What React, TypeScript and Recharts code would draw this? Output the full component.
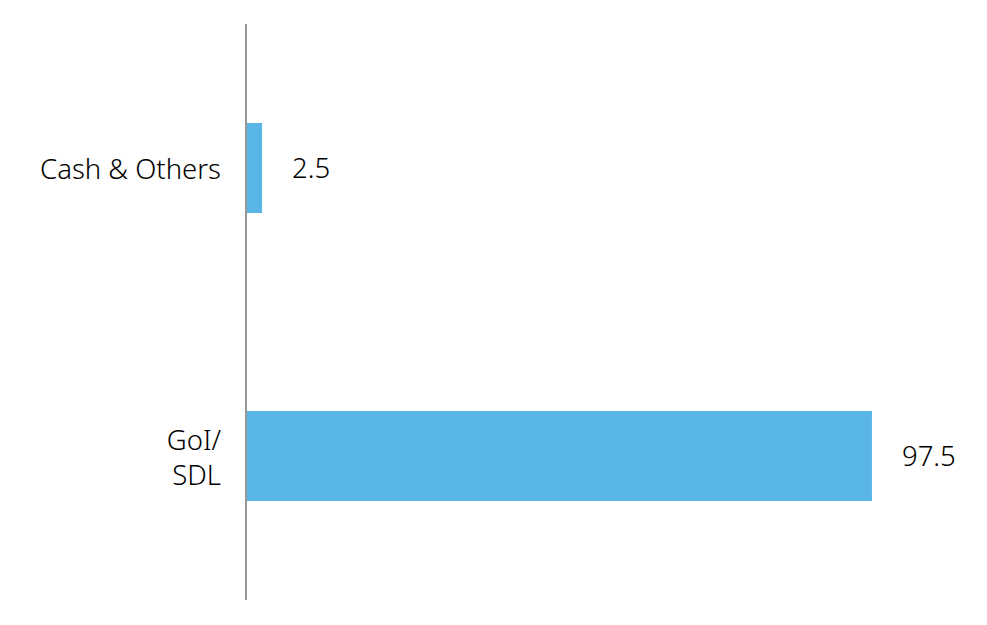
import { Bar, BarChart, LabelList, XAxis, YAxis } from 'recharts'

const categories = ['Cash & Others', 'GoI/\nSDL']
const values = [2.5, 97.5]

const data = categories.map((name, i) => ({ name, value: values[i] }))

const FONT = '"Noto Sans", sans-serif'

const Tick = ({ x, y, payload }: any) => {
  const lines = String(payload.value).split('\n')
  const lineHeight = 35
  const startY = y - ((lines.length - 1) * lineHeight) / 2
  return (
    <text
      x={x}
      y={startY}
      textAnchor="end"
      dominantBaseline="central"
      fontFamily={FONT}
      fontSize={27.5}
      fontWeight={300}
      fill="#000"
    >
      {lines.map((line, i) => (
        <tspan key={i} x={x} y={startY + i * lineHeight} dominantBaseline="central">
          {line}
        </tspan>
      ))}
    </text>
  )
}

export default function App() {
  return (
    <BarChart
      width={979}
      height={617}
      data={data}
      layout="vertical"
      margin={{ top: 16, right: 99, bottom: 25, left: 0 }}
    >
      <XAxis type="number" domain={[0, 100]} hide />
      <YAxis
        type="category"
        dataKey="name"
        width={238}
        tickLine={false}
        axisLine={{ stroke: '#999', strokeWidth: 2 }}
        tick={<Tick />}
        tickMargin={19}
      />
      <Bar dataKey="value" fill="#58B5E6" barSize={90} isAnimationActive={false}>
        <LabelList
          dataKey="value"
          position="right"
          offset={30}
          fill="#000"
          fontSize={27.5}
          fontWeight={300}
          fontFamily={FONT}
        />
      </Bar>
    </BarChart>
  )
}
